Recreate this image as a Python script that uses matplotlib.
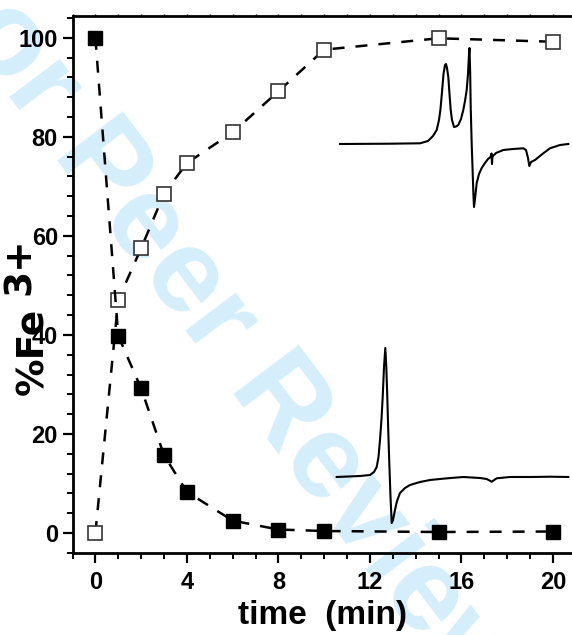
import matplotlib
matplotlib.use("Agg")
import matplotlib.pyplot as plt
from matplotlib.ticker import MultipleLocator

# ---------------- data ----------------
time_min = [0, 1, 2, 3, 4, 6, 8, 10, 15, 20]
fe3_filled = [100, 39.8, 29.2, 15.7, 8.3, 2.5, 0.7, 0.4, 0.2, 0.3]
fe3_open = [0, 47.1, 57.5, 68.5, 74.7, 80.9, 89.2, 97.6, 99.9, 99.2]

x_ticks = [0, 4, 8, 12, 16, 20]
y_ticks = [0, 20, 40, 60, 80, 100]

# inset EPR-like traces (arbitrary field / signal units)
epr_top_field = [10, 60, 90, 98, 103, 106.7, 109, 110.5, 112, 113.5, 115, 116, 117, 118.3,
                 119.5, 120.7, 122, 124, 126, 128.3, 131, 133.3, 135, 136.7, 138, 139, 139.5,
                 140.2, 140.7, 141.7, 142.7, 143.4, 144, 145, 146.7, 149, 151.7, 155, 158,
                 160.5, 161.5, 162, 162.5, 166, 173.3, 183, 193.3, 196, 198, 199.3, 201, 205,
                 213, 220, 230, 238.3]
epr_top_signal = [0, 0.3, 0.7, 3, 8, 14, 24, 35, 52, 70, 79, 80, 76, 67,
                  50, 34, 24, 17, 17.5, 19, 25, 34, 43, 54, 70, 90, 96,
                  70, 37, 0, -29, -50, -63, -55, -39, -30, -24, -19, -15,
                  -13, -9.5, -20, -12.5, -9, -6, -5, -4.3, -6, -14, -22, -18, -16,
                  -9.5, -4.3, -1, 0]

epr_bot_field = [6.7, 30, 40, 44, 46.7, 48.5, 50, 51.5, 52.7, 54, 55.3, 56.3, 57.3, 58.3,
                 59.3, 60.5, 61.7, 63, 65, 67, 70, 75, 80, 90, 100, 115, 133.3, 150,
                 156.7, 161.7, 166.7, 180, 200, 220, 238.3]
epr_bot_signal = [0, 1, 2, 5, 10, 20, 37, 58, 80, 110, 129, 110, 80, 45,
                  14, -20, -46, -43, -33, -24, -16, -11, -8, -5, -3, -1.5, 0, -1,
                  -2, -4.7, -1.3, 0, 0, 0.3, 0]

W, H = 572, 635
fig = plt.figure(figsize=(W / 100, H / 100), dpi=100)
fig.patch.set_facecolor("white")

# watermark
fig.text(220 / W, 1 - 327 / H, "For Peer Review", family="Liberation Sans",
         fontweight="bold", fontsize=86, color="#d4effb", rotation=-53,
         rotation_mode="anchor", ha="center", va="center", zorder=-5)

# ---------------- main axes ----------------
left_px, bottom_px, top_px = 72.5, 553.3, 15.5
ax = fig.add_axes([left_px / W, 1 - bottom_px / H, 1 - left_px / W, (bottom_px - top_px) / H])
ax.set_facecolor("none")

dash = (0, (4.8, 4.4))
ax.plot(time_min, fe3_open, linestyle=dash, color="black", lw=1.8, marker="s",
        markersize=9.9, markerfacecolor="white", markeredgecolor="#333333",
        markeredgewidth=1.2, clip_on=False, zorder=3)
ax.plot(time_min, fe3_filled, linestyle=dash, color="black", lw=1.8, marker="s",
        markersize=9.9, markerfacecolor="black", markeredgecolor="black",
        clip_on=False, zorder=4)

ax.set_xlim(-1, 20.83)
ax.set_ylim(-4.1, 104.5)
ax.set_xticks(x_ticks)
ax.set_yticks(y_ticks)
ax.xaxis.set_minor_locator(MultipleLocator(1))
ax.yaxis.set_minor_locator(MultipleLocator(4))

for s in ["left", "bottom", "top"]:
    ax.spines[s].set_linewidth(2.0)
ax.spines["right"].set_visible(False)

ax.tick_params(axis="both", which="major", direction="out", length=7.5, width=1.6,
               labelsize=17, pad=3)
ax.tick_params(axis="both", which="minor", direction="out", length=4.3, width=1.4)
ax.tick_params(axis="x", which="major", pad=5)
ax.tick_params(axis="x", which="both", top=True)
for t in ax.xaxis.get_major_ticks() + ax.xaxis.get_minor_ticks():
    t.tick2line.set_markersize(1.5)
    t.tick2line.set_markeredgewidth(1.0)

for lab in ax.get_xticklabels() + ax.get_yticklabels():
    lab.set_fontfamily("Liberation Sans")
    lab.set_fontweight("bold")

ax.set_xlabel("time  (min)", family="Liberation Sans", fontweight="bold", fontsize=24)
ax.xaxis.set_label_coords(0.5, -0.0868)

ax.set_ylabel("%Fe", family="DejaVu Sans", fontweight="bold", fontsize=27,
              ha="center", va="center", rotation_mode="anchor")
ax.yaxis.set_label_coords((33 - left_px) / (W - left_px), (bottom_px - 351) / (bottom_px - top_px))
ax.text((20 - left_px) / (W - left_px), (bottom_px - 266) / (bottom_px - top_px), "3+",
        transform=ax.transAxes, rotation=90, ha="center", va="center",
        rotation_mode="anchor", family="DejaVu Sans", fontweight="bold", fontsize=27)

# ---------------- insets ----------------
ins1 = fig.add_axes([330 / W, 1 - 220 / H, 242 / W, 180 / H])
ins1.plot(epr_top_field, epr_top_signal, color="black", lw=1.5)
ins1.set_xlim(0, 242)
ins1.set_ylim(-76, 104)
ins1.axis("off")
ins1.set_facecolor("none")

ins2 = fig.add_axes([330 / W, 1 - 530 / H, 242 / W, 200 / H])
ins2.plot(epr_bot_field, epr_bot_signal, color="black", lw=1.5)
ins2.set_xlim(0, 242)
ins2.set_ylim(-53, 147)
ins2.axis("off")
ins2.set_facecolor("none")

fig.savefig("out.png", dpi=100)
